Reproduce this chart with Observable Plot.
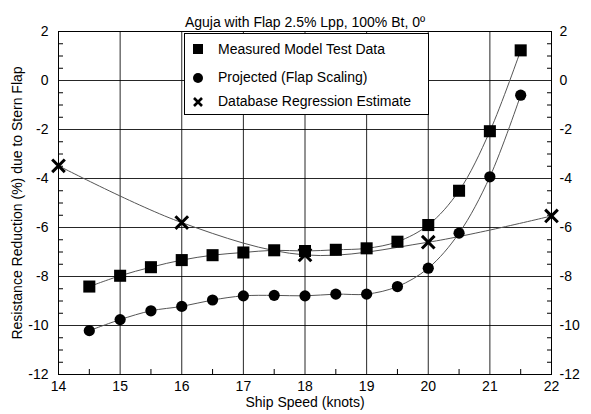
<!DOCTYPE html>
<html><head><meta charset="utf-8">
<script src="https://cdn.jsdelivr.net/npm/d3@7"></script>
<script src="https://cdn.jsdelivr.net/npm/@observablehq/plot@0.6"></script>
<style>
body{margin:0;background:#fff;font-family:"Liberation Sans",Arial,sans-serif;}
#wrap{position:relative;width:591px;height:414px;overflow:hidden;}
#legend{position:absolute;left:184px;top:33px;width:243px;height:80px;border:1px solid #000;background:#fff;font-size:14px;}
#legend .row{position:absolute;left:0;height:20px;line-height:20px;width:240px;}
#legend svg{position:absolute;left:6px;top:0;}
#legend span{position:absolute;left:33px;top:0;white-space:nowrap;}
</style></head><body><div id="wrap"></div>
<script>
const title = "Aguja with Flap 2.5% Lpp, 100% Bt, 0º";
const xLabel = "Ship Speed (knots)";
const yLabel = "Resistance Reduction (%) due to Stern Flap";
const seriesNames = ["Measured Model Test Data", "Projected (Flap Scaling)", "Database Regression Estimate"];

const speedsModel = [14.5, 15, 15.5, 16, 16.5, 17, 17.5, 18, 18.5, 19, 19.5, 20, 20.5, 21, 21.5];
const measured = [-8.41, -7.97, -7.62, -7.33, -7.13, -7.02, -6.93, -6.96, -6.91, -6.85, -6.58, -5.90, -4.50, -2.07, 1.23];
const projected = [-10.21, -9.76, -9.40, -9.22, -8.96, -8.79, -8.77, -8.79, -8.72, -8.72, -8.41, -7.66, -6.23, -3.93, -0.60];
const speedsDb = [14, 16, 18, 20, 22];
const database = [-3.48, -5.80, -7.12, -6.60, -5.53];

const xTicks = [14, 15, 16, 17, 18, 19, 20, 21, 22];
const yTicks = [-12, -10, -8, -6, -4, -2, 0, 2];
const xMinor = [14.5, 15.5, 16.5, 17.5, 18.5, 19.5, 20.5, 21.5];
const yMinor = d3.range(-11.5, 2, 0.5).filter(v => v % 2 !== 0);

const mData = speedsModel.map((x, i) => ({x, y: measured[i]}));
const pData = speedsModel.map((x, i) => ({x, y: projected[i]}));
const dData = speedsDb.map((x, i) => ({x, y: database[i]}));

const font = "'Liberation Sans', Arial, sans-serif";
const fmt = d => d < 0 ? "-" + Math.abs(d) : String(d);
const chart = Plot.plot({
  width: 591, height: 414,
  marginLeft: 58, marginRight: 40, marginTop: 31, marginBottom: 40,
  style: {fontFamily: font, fontSize: "14px", color: "#000", background: "#fff", overflow: "visible"},
  x: {domain: [14, 22]},
  y: {domain: [-12, 2]},
  marks: [
    Plot.gridX(xTicks, {stroke: "#000", strokeOpacity: 0.85}),
    Plot.gridY(yTicks, {stroke: "#000", strokeOpacity: 0.85}),
    Plot.frame({stroke: "#000"}),
    Plot.axisX(xMinor, {anchor: "bottom", tickSize: -5, tickFormat: () => "", label: null}),
    Plot.axisY(yMinor, {anchor: "left", tickSize: -5, tickFormat: () => "", label: null}),
    Plot.axisY(yMinor, {anchor: "right", tickSize: -5, tickFormat: () => "", label: null}),
    Plot.axisX(xTicks, {anchor: "bottom", tickSize: 0, tickPadding: 7, label: null, fontSize: 14}),
    Plot.axisY(yTicks, {anchor: "left", tickSize: 0, tickPadding: 10, label: null, fontSize: 14, tickFormat: fmt}),
    Plot.axisY(yTicks, {anchor: "right", tickSize: 0, tickPadding: 8, label: null, fontSize: 14, tickFormat: fmt}),
    Plot.line(dData, {x: "x", y: "y", curve: "catmull-rom", stroke: "#555", strokeWidth: 1}),
    Plot.line(mData, {x: "x", y: "y", curve: "catmull-rom", stroke: "#555", strokeWidth: 1}),
    Plot.line(pData, {x: "x", y: "y", curve: "catmull-rom", stroke: "#555", strokeWidth: 1}),
    Plot.dot(mData, {x: "x", y: "y", symbol: "square", r: 6.8, fill: "#000"}),
    Plot.dot(pData, {x: "x", y: "y", symbol: "circle", r: 5.6, fill: "#000"}),
    Plot.dot(dData, {x: "x", y: "y", symbol: "times", r: 5.8, stroke: "#000", strokeWidth: 3}),
    Plot.text([title], {frameAnchor: "top", dy: -14, fontSize: 14, textAnchor: "middle"}),
    Plot.text([xLabel], {frameAnchor: "bottom", dy: 32, fontSize: 14, textAnchor: "middle"}),
    Plot.text([yLabel], {frameAnchor: "left", dx: -41, rotate: -90, fontSize: 14, textAnchor: "middle"})
  ]
});
const wrap = document.getElementById("wrap");
wrap.appendChild(chart);

const legend = document.createElement("div");
legend.id = "legend";
const symbols = [
  '<rect x="2" y="5" width="10" height="10" fill="#000"/>',
  '<circle cx="7" cy="11" r="5" fill="#000"/>',
  '<path d="M3,7L11,15M11,7L3,15" stroke="#000" stroke-width="2.6"/>'
];
const rowTops = [5, 33, 57];
seriesNames.forEach((name, i) => {
  const row = document.createElement("div");
  row.className = "row";
  row.style.top = rowTops[i] + "px";
  row.innerHTML = `<svg width="16" height="20">${symbols[i]}</svg><span>${name}</span>`;
  legend.appendChild(row);
});
wrap.appendChild(legend);
</script>
</body></html>
